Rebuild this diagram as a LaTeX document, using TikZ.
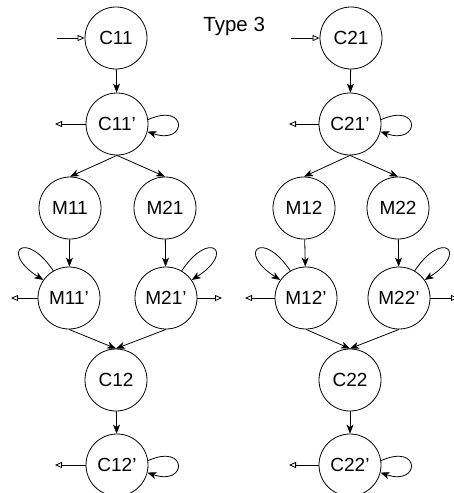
\documentclass[tikz,border=0pt]{standalone}
\usepackage{fontspec}
\setmainfont{Liberation Sans}
\usetikzlibrary{arrows.meta}
\tikzstyle{state}=[circle,draw=black,fill=white,inner sep=0pt,
                   minimum size=62pt,font=\fontsize{19}{21}\selectfont]
\tikzstyle{flow}=[-{Stealth[length=9pt,width=7pt,inset=2.5pt]}]
\tikzstyle{port}=[-{Triangle[open,length=7pt,width=6pt]}]

\begin{document}
\begin{tikzpicture}[x=1pt,y=-1pt,line width=0.8pt]
    \useasboundingbox (0,0) rectangle (453,493);
    \node (title) at (203,31) [anchor=base west,inner sep=0pt,
                               font=\fontsize{20.5}{22}\selectfont]{Type 3};
    % left chain
    \node (c11)  at (116, 38) [state]{C11};
    \node (c11p) at (117,124) [state]{C11'};
    \node (m11)  at ( 70,208) [state]{M11};
    \node (m21)  at (165,208) [state]{M21};
    \node (m11p) at ( 69,298) [state]{M11'};
    \node (m21p) at (166,298) [state]{M21'};
    \node (c12)  at (116,380) [state]{C12};
    \node (c12p) at (117,465) [state]{C12'};
    % right chain
    \node (c21)  at (351, 38) [state]{C21};
    \node (c21p) at (350,124) [state]{C21'};
    \node (m12)  at (304,208) [state]{M12};
    \node (m22)  at (398,208) [state]{M22};
    \node (m12p) at (306,298) [state]{M12'};
    \node (m22p) at (399,298) [state]{M22'};
    \node (c22)  at (350,380) [state]{C22};
    \node (c22p) at (350,465) [state]{C22'};
    % free ends
    \coordinate (in1)   at ( 57, 38);
    \coordinate (in2)   at (291, 38);
    \coordinate (out11) at ( 55,124);
    \coordinate (out21) at (289,124);
    \coordinate (outm1) at ( 11,298);
    \coordinate (outm2) at (222,298);
    \coordinate (outm3) at (245,298);
    \coordinate (outm4) at (458,298);
    \coordinate (out12) at ( 55,465);
    \coordinate (out22) at (289,465);
    \draw[port] (in1) -- (c11);
    \draw[port] (in2) -- (c21);
    \draw[port] (c11p) -- (out11);
    \draw[port] (c21p) -- (out21);
    \draw[port] (m11p) -- (outm1);
    \draw[port] (m21p) -- (outm2);
    \draw[port] (m12p) -- (outm3);
    \draw[port] (m22p) -- (outm4);
    \draw[port] (c12p) -- (out12);
    \draw[port] (c22p) -- (out22);
    \draw[flow] (c11) -- (c11p);
    \draw[flow] (c21) -- (c21p);
    \draw[flow] (c11p.south) -- (m11.north);
    \draw[flow] (c11p.south) -- (m21.north);
    \draw[flow] (c21p.south) -- (m12.north);
    \draw[flow] (c21p.south) -- (m22.north);
    \draw[flow] (m11) -- (m11p);
    \draw[flow] (m21) -- (m21p);
    \draw[flow] (m12) -- (m12p);
    \draw[flow] (m22) -- (m22p);
    \draw[flow] (m11p.south) -- (c12.north);
    \draw[flow] (m21p.south) -- (c12.north);
    \draw[flow] (m12p.south) -- (c22.north);
    \draw[flow] (m22p.south) -- (c22.north);
    \draw[flow] (c12) -- (c12p);
    \draw[flow] (c22) -- (c22p);
    % self loops
    \draw[flow] (c11p.8) .. controls +(40,-18) and +(40,14) .. (c11p.-14);
    \draw[flow] (c21p.8) .. controls +(40,-18) and +(40,14) .. (c21p.-14);
    \draw[flow] (c12p.8) .. controls +(40,-18) and +(40,14) .. (c12p.-14);
    \draw[flow] (c22p.8) .. controls +(40,-18) and +(40,14) .. (c22p.-14);
    \draw[flow] (m11p.120) .. controls +(-28,-42) and +(-44,-28) .. (m11p.145);
    \draw[flow] (m12p.120) .. controls +(-28,-42) and +(-44,-28) .. (m12p.145);
    \draw[flow] (m21p.60) .. controls +(28,-42) and +(44,-28) .. (m21p.35);
    \draw[flow] (m22p.60) .. controls +(28,-42) and +(44,-28) .. (m22p.35);
\end{tikzpicture}
\end{document}
